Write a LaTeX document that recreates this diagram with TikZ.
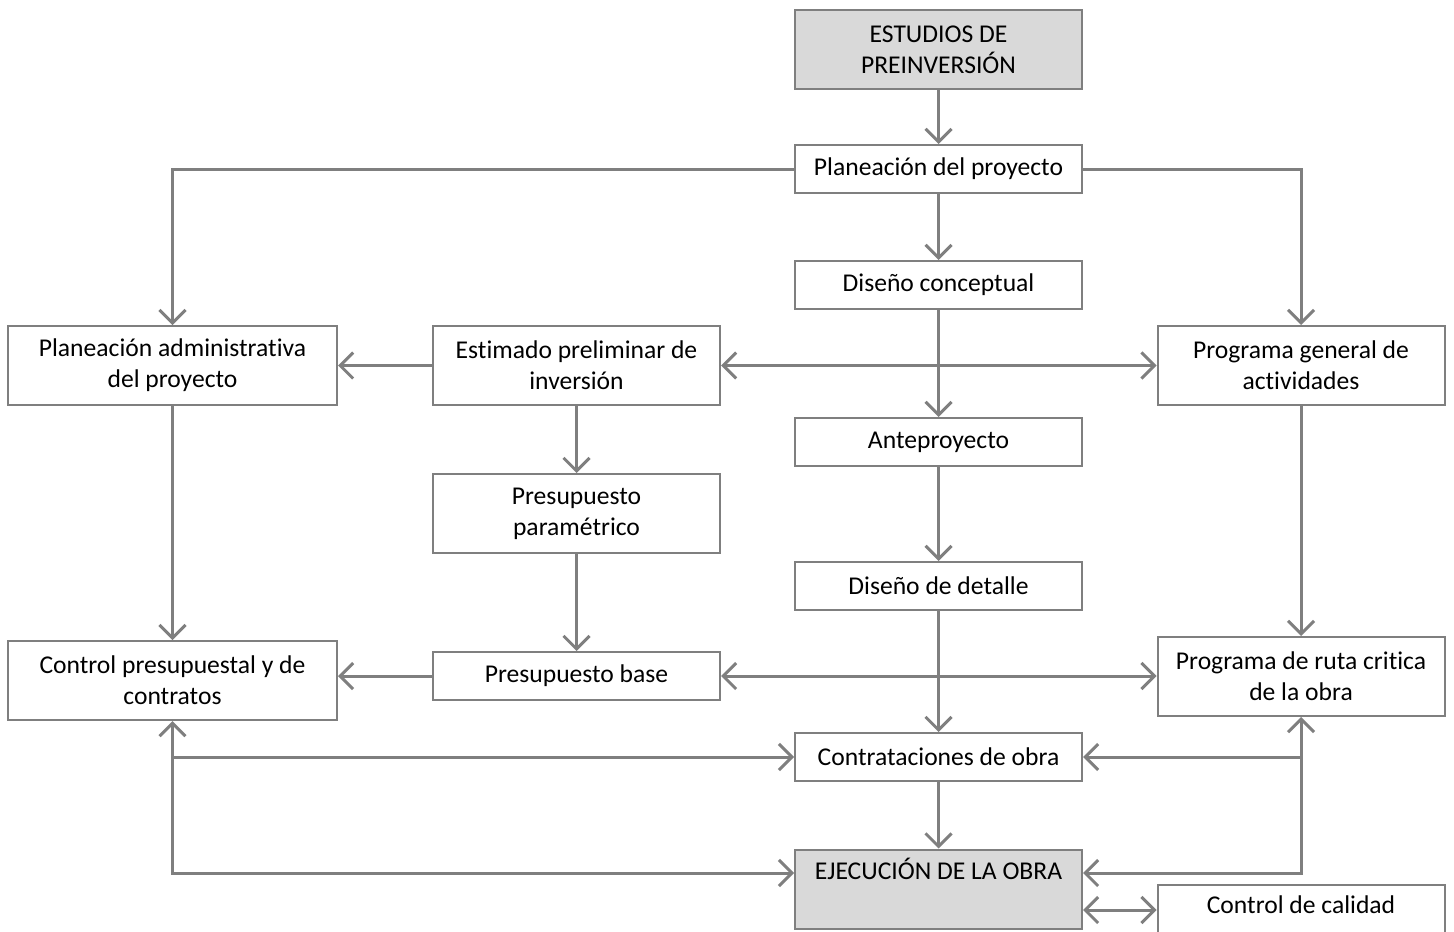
\documentclass[tikz,border=0pt]{standalone}
\usepackage{fontspec}
\setmainfont{Carlito}[Ligatures=NoCommon]
\usetikzlibrary{arrows.meta}
\definecolor{linegray}{HTML}{7F7F7F}
\definecolor{shade}{HTML}{D9D9D9}
\begin{document}
\begin{tikzpicture}[x=0.5pt,y=-0.5pt,
  box/.style={draw=linegray, line width=1pt, fill=white, inner sep=0pt,
    minimum width=143.5pt, minimum height=24pt, align=center,
    font=\fontsize{12.8}{15.5}\selectfont},
  tall/.style={minimum height=39.5pt},
  wide/.style={minimum width=164.5pt},
  shaded/.style={fill=shade},
  conn/.style={draw=linegray, line width=1.5pt, -{Straight Barb[length=6.5pt,width=13pt]}},
  both/.style={draw=linegray, line width=1.5pt, {Straight Barb[length=6.5pt,width=13pt]}-{Straight Barb[length=6.5pt,width=13pt]}}]
\useasboundingbox (0,0) rectangle (1454,931);
\fill[white] (0,0) rectangle (1454,931);

% boxes
\node[box,tall,shaded] (estudios) at (938.5,49.5) {ESTUDIOS DE\\PREINVERSIÓN};
\node[box] (plan) at (938.5,169) {Planeación del proyecto};
\node[box] (dconc) at (938.5,285) {Diseño conceptual};
\node[box,tall,wide] (padm) at (172.5,365.5) {Planeación administrativa\\del proyecto};
\node[box,tall] (estim) at (576.5,365.5) {Estimado preliminar de\\inversión};
\node[box,tall] (pgen) at (1301,365.5) {Programa general de\\actividades};
\node[box] (ante) at (938.5,442) {Anteproyecto};
\node[box,tall] (param) at (576.5,513.5) {Presupuesto\\paramétrico};
\node[box] (ddet) at (938.5,586) {Diseño de detalle};
\node[box,tall,wide] (cpres) at (172.5,680.5) {Control presupuestal y de\\contratos};
\node[box] (pbase) at (576.5,676) {Presupuesto base};
\node[box,tall] (ruta) at (1301,676.5) {Programa de ruta critica\\de la obra};
\node[box] (contr) at (938.5,757) {Contrataciones de obra};
\node[box,tall,shaded] (ejec) at (938.5,889) {EJECUCIÓN DE LA OBRA\\\strut};
\node[box,tall] (calid) at (1301,924.5) {Control de calidad\\\strut};

% elbow points
\coordinate (lc) at (172.5,757);
\coordinate (lj) at (172.5,873);
\coordinate (rc) at (1301,757);
\coordinate (rj) at (1301,873);
\coordinate (qc) at (1120,910);

% connectors
\draw[conn] (estudios) -- (plan);
\draw[conn] (plan.west) -| (padm.north);
\draw[conn] (plan.east) -| (pgen.north);
\draw[conn] (plan) -- (dconc);
\draw[both] (estim.east) -- (pgen.west);
\draw[conn] (dconc) -- (ante);
\draw[conn] (estim.west) -- (padm.east);
\draw[conn] (estim) -- (param);
\draw[conn] (param) -- (pbase);
\draw[conn] (padm) -- (cpres);
\draw[conn] (pbase.west) -- (pbase.west -| cpres.east);
\draw[both] (pbase.east) -- (pbase.east -| ruta.west);
\draw[conn] (pgen) -- (ruta);
\draw[conn] (ante) -- (ddet);
\draw[conn] (ddet) -- (contr);
\draw[conn] (contr) -- (ejec);
\draw[both] (cpres.south) -- (lj) -- (lj -| ejec.west);
\draw[conn] (lc) -- (contr.west);
\draw[both] (ruta.south) -- (rj) -- (rj -| ejec.east);
\draw[conn] (rc) -- (contr.east);
\draw[both] (qc -| ejec.east) -- (qc -| calid.west);
\end{tikzpicture}
\end{document}
